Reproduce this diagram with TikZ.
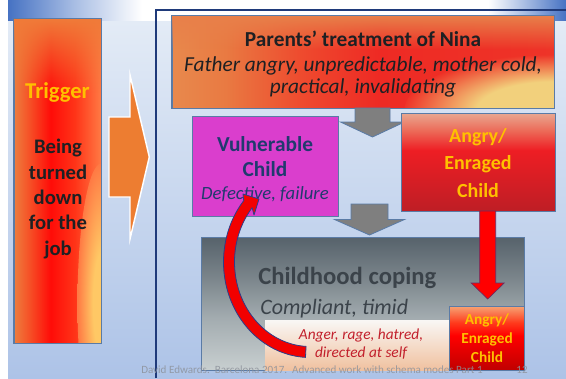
\documentclass[tikz,border=0pt]{standalone}
\usepackage{fontspec}
\setmainfont{Carlito}
\usetikzlibrary{calc,fit,fadings}

% palette
\definecolor{bgTop}{HTML}{E3EBF6}
\definecolor{bgBot}{HTML}{ADC3E7}
\definecolor{headBlue}{HTML}{4672C3}
\definecolor{headMid}{HTML}{A9BEE4}
\definecolor{frameNavy}{HTML}{1F3A7A}
\definecolor{boxLine}{HTML}{5A7BA6}
\definecolor{arrGray}{HTML}{7F7F7F}
\definecolor{vulFill}{HTML}{DA3ECD}
\definecolor{vulText}{HTML}{203A6E}
\definecolor{darkText}{HTML}{1E2023}
\definecolor{goldText}{HTML}{FFC000}
\definecolor{copText}{HTML}{3B434A}
\definecolor{angerText}{HTML}{C21F2B}
\definecolor{footGray}{HTML}{8D929B}
\definecolor{arrOrange}{HTML}{ED7D31}
\definecolor{arrRed}{HTML}{FF0000}
\definecolor{curveFill}{HTML}{F20000}
\definecolor{curveLine}{HTML}{2C3E8A}
\definecolor{fireTopTr}{HTML}{F07B39}
\definecolor{fireGlowTr}{HTML}{FFC865}
\definecolor{fireTopPa}{HTML}{E8804A}
\definecolor{fireGlowPa}{HTML}{F2D07C}
% shading stops
\definecolor{trA}{HTML}{EC7D3E}
\definecolor{trB}{HTML}{F45A2B}
\definecolor{trC}{HTML}{FF0C08}
\definecolor{trD}{HTML}{FF3418}
\definecolor{trE}{HTML}{FF7A44}
\definecolor{paA}{HTML}{E8894D}
\definecolor{paB}{HTML}{E97A42}
\definecolor{paC}{HTML}{EE4A2E}
\definecolor{paD}{HTML}{EE2A24}
\definecolor{paE}{HTML}{EE3428}
\definecolor{anA}{HTML}{BE1E25}
\definecolor{anB}{HTML}{EE1E24}
\definecolor{anC}{HTML}{EC6A58}
\definecolor{anD}{HTML}{E9A890}
\definecolor{smA}{HTML}{C00000}
\definecolor{smB}{HTML}{FF0000}
\definecolor{smC}{HTML}{FF3A1C}
\definecolor{smD}{HTML}{F6A474}
\definecolor{cpA}{HTML}{C8CFD0}
\definecolor{cpB}{HTML}{A2ABAF}
\definecolor{cpC}{HTML}{7A848A}
\definecolor{cpD}{HTML}{56626B}
\definecolor{plA}{HTML}{F0C19F}
\definecolor{plB}{HTML}{F9F7F5}

% shadings (25bp..75bp span the shaded path; vertical ones run bottom to top)
\pgfdeclarehorizontalshading{headH}{100bp}{color(0bp)=(headBlue); color(25bp)=(headBlue); color(31bp)=(headMid); color(37bp)=(white); color(68bp)=(white); color(75bp)=(headBlue); color(100bp)=(headBlue)}
\pgfdeclarehorizontalshading{trigH}{100bp}{color(0bp)=(trA); color(25bp)=(trA); color(32bp)=(trB); color(46bp)=(trC); color(60bp)=(trD); color(75bp)=(trE); color(100bp)=(trE)}
\pgfdeclarehorizontalshading{parH}{100bp}{color(0bp)=(paA); color(25bp)=(paA); color(32bp)=(paB); color(42bp)=(paC); color(52bp)=(paD); color(75bp)=(paE); color(100bp)=(paE)}
\pgfdeclareverticalshading{angV}{100bp}{color(0bp)=(anA); color(25bp)=(anA); color(56bp)=(anB); color(66bp)=(anC); color(75bp)=(anD); color(100bp)=(anD)}
\pgfdeclareverticalshading{smV}{100bp}{color(0bp)=(smA); color(25bp)=(smA); color(52bp)=(smB); color(62bp)=(smC); color(75bp)=(smD); color(100bp)=(smD)}
\pgfdeclareverticalshading{copV}{100bp}{color(0bp)=(cpA); color(25bp)=(cpA); color(45bp)=(cpB); color(60bp)=(cpC); color(75bp)=(cpD); color(100bp)=(cpD)}
\pgfdeclareverticalshading{paleV}{100bp}{color(0bp)=(plA); color(25bp)=(plA); color(75bp)=(plB); color(100bp)=(plB)}
% warm glows that melt into the surrounding fire colour at their rim
\pgfdeclareradialshading{glowTr}{\pgfpoint{0bp}{0bp}}{color(0bp)=(fireGlowTr); color(9bp)=(fireGlowTr); color(25bp)=(trE); color(50bp)=(trE)}
\pgfdeclareradialshading{glowPa}{\pgfpoint{0bp}{0bp}}{color(0bp)=(fireGlowPa); color(13bp)=(fireGlowPa); color(25bp)=(paE); color(50bp)=(paE)}

% fading for the orange band along the top of the fire fills
\tikzfading[name=fadetop, top color=transparent!0, bottom color=transparent!100]

\tikzset{
  box/.style={draw=boxLine, line width=0.75pt, inner sep=0pt},
  grayarr/.style={fill=arrGray, draw=boxLine, line width=0.6pt, line join=miter},
  redarr/.style={fill=arrRed, draw=curveLine!70!arrRed, line width=0.5pt, line join=miter},
  bigarr/.style={fill=arrOrange, draw=white, line width=1.1pt, line join=miter},
  curvearr/.style={fill=curveFill, draw=curveLine, line width=0.6pt, line join=round},
  frame/.style={draw=frameNavy, line width=1.2pt},
  txt/.style={inner sep=0pt, align=center},
  footer/.style={inner sep=0pt, text=footGray, text opacity=0.85, font=\fontsize{8.3}{9}\selectfont}
}

\begin{document}
\begin{tikzpicture}[x=0.75pt, y=-0.75pt]
\useasboundingbox (0,0) rectangle (566,378);

% backdrop, header band and frame
\fill[white] (0,0) rectangle (566,378);
\shade[top color=bgTop, bottom color=bgBot] (8,21) rectangle (566,378);
\shade[shading=headH] (8,0) rectangle (566,21);
\draw[frame] (156,378) -- (156,10) -- (566,10);

% trigger column
\node[box, shade, shading=trigH, fit={(14,19) (101,343)}] (trig) {};
\begin{scope}
  \clip (trig.north west) rectangle (trig.south east);
  \shade[shading=glowTr] ($(trig.south east)+(0,-40)$) ellipse [x radius=24, y radius=140];
  \fill[fireTopTr, path fading=fadetop] (trig.north west) rectangle ($(trig.north east)+(0,75)$);
\end{scope}
\draw[boxLine, line width=0.75pt] (trig.north west) rectangle (trig.south east);
\node[txt, text=goldText, font=\fontsize{17}{20}\selectfont\bfseries] (trigT) at (57.5,92) {Trigger};
\node[txt, text=darkText, font=\fontsize{15.5}{19.1}\selectfont\bfseries] (trigB) at (58,199) {Being\\turned\\down\\for the\\job};

% big orange arrow
\coordinate (oa) at (109,157);
\draw[bigarr] ($(oa)+(0,-40)$) -- ++(21,0) -- ++(0,-42) -- ++(19.3,82) -- ++(-19.3,82) -- ++(0,-42) -- ++(-21,0) -- cycle;

% parents box
\node[box, shade, shading=parH, fit={(172,16) (554,108)}] (par) {};
\begin{scope}
  \clip (par.north west) rectangle (par.south east);
  \shade[shading=glowPa] ($(par.south east)+(0,2)$) ellipse [x radius=150, y radius=56];
  \fill[fireTopPa, path fading=fadetop] (par.north west) rectangle ($(par.north east)+(0,34)$);
\end{scope}
\draw[boxLine, line width=0.75pt] (par.north west) rectangle (par.south east);
\node[txt, text=darkText, font=\fontsize{16}{19}\selectfont\bfseries] (parT) at (363,38.5) {Parents’ treatment of Nina};
\node[txt, text=darkText, font=\fontsize{16}{16.3}\selectfont\itshape] (parI) at (363,77) {Father angry, unpredictable, mother cold,\\practical, invalidating};

% first gray arrow
\coordinate (g1) at (372.5,108);
\draw[grayarr] ($(g1)+(-17.5,0)$) -- ++(0,14) -- ++(-14.5,0) -- ++(32,15) -- ++(32,-15) -- ++(-14.5,0) -- ++(0,-14) -- cycle;

% vulnerable child
\node[box, fill=vulFill, fit={(192,116) (338,216)}] (vul) {};
\node[txt, text=vulText, font=\fontsize{16}{18.75}\selectfont\bfseries] (vulT) at (265,157) {Vulnerable\\Child};
\node[txt, text=vulText, font=\fontsize{14}{16}\selectfont\itshape] (vulI) at (265,194) {Defective, failure};

% angry / enraged child
\node[box, shade, shading=angV, fit={(401,113) (555,211)}] (ang) {};
\node[txt, text=goldText, font=\fontsize{15}{20.6}\selectfont\bfseries] (angT) at (478,163) {Angry/\\Enraged\\Child};

% second gray arrow
\coordinate (g2) at (369.5,204);
\draw[grayarr] ($(g2)+(-18.5,0)$) -- ++(0,15.5) -- ++(-16.5,0) -- ++(35,15.5) -- ++(35,-15.5) -- ++(-16.5,0) -- ++(0,-15.5) -- cycle;

% childhood coping
\node[box, shade, shading=copV, fit={(201,237) (524,370)}] (cop) {};
\node[txt, anchor=west, text=copText, font=\fontsize{18.5}{22}\selectfont\bfseries] (copT) at (258,278) {Childhood coping};
\node[txt, anchor=west, text=copText, font=\fontsize{16.5}{19}\selectfont\itshape] (copI) at (260,308.5) {Compliant, timid};

% self-directed anger
\node[inner sep=0pt, shade, shading=paleV, fit={(265,320) (449,370)}] (pale) {};
\node[txt, text=angerText, font=\fontsize{11.5}{13.3}\selectfont\itshape] (paleT) at (361,344) {Anger, rage, hatred,\\directed at self};

% small angry child
\node[box, shade, shading=smV, fit={(449,306) (524,370)}] (sang) {};
\node[txt, text=goldText, font=\fontsize{11.5}{14.25}\selectfont\bfseries] (sangT) at (487,338.5) {Angry/\\Enraged\\Child};

% red arrow down to the small box
\coordinate (r1) at (487.7,211);
\draw[redarr] ($(r1)+(-8,0)$) -- ++(0,72) -- ++(-8.5,0) -- ++(16.5,16) -- ++(16.5,-16) -- ++(-8.5,0) -- ++(0,-72) -- cycle;

% curved arrow back up to the vulnerable child
\draw[curvearr] plot[domain=93:220, samples=60] ({310+86.5*cos(\x)},{262+95.5*sin(\x)})
  -- (243,194) -- (259,199) -- (254,215)
  -- plot[domain=220:93, samples=60] ({310+75.5*cos(\x)},{262+84.5*sin(\x)}) -- cycle;

% footer
\node[footer, anchor=west] (foot) at (141,369.5) {David Edwards.\ \ Barcelona 2017.\ \ Advanced work with schema modes Part 1};
\node[footer] (pg) at (522,369.5) {12};
\end{tikzpicture}
\end{document}
